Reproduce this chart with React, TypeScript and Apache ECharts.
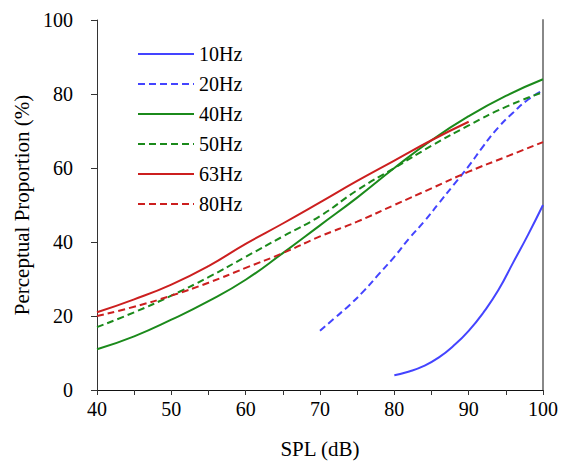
import React, { useEffect, useRef } from "react";
import * as echarts from "echarts";

const xTicks = [40, 50, 60, 70, 80, 90, 100];
const yTicks = [0, 20, 40, 60, 80, 100];

const spl10 = [80, 82, 84, 86, 88, 90, 92, 94, 96, 98, 100];
const val10 = [4, 5, 6.5, 8.8, 12, 16, 21, 27, 34.5, 42, 50];

const spl20 = [70, 72, 74, 76, 78, 80, 82, 84, 86, 88, 90, 92, 94, 96, 98, 100];
const val20 = [16, 19.5, 23, 27, 31.5, 36, 41, 45.5, 50.5, 55.5, 60.5, 66, 71, 75, 78.5, 81];

const spl40 = [40, 45, 50, 55, 60, 65, 70, 75, 80, 85, 90, 95, 100];
const val40 = [11, 14.5, 19, 24, 29.8, 37, 44.5, 52, 60, 67.5, 74, 79.5, 84];

const spl50 = [40, 45, 50, 55, 60, 65, 70, 75, 80, 85, 90, 95, 100];
const val50 = [17, 21, 25.5, 30.5, 36, 41.5, 47, 54, 60, 66, 71.5, 76.5, 80.5];

const spl63 = [40, 45, 50, 55, 60, 65, 70, 75, 80, 85, 90];
const val63 = [21, 24.5, 28.5, 33.5, 39.5, 45, 50.7, 56.5, 62, 67.5, 72.5];

const spl80 = [40, 45, 50, 55, 60, 65, 70, 75, 80, 85, 90, 95, 100];
const val80 = [20, 22.5, 25.5, 29, 33, 37, 41.5, 45.5, 50, 54.5, 59, 63, 67];

const BLUE = "#4444ff";
const GREEN = "#1b8a1b";
const RED = "#cc1f1f";
const FONT = "'Liberation Serif', 'Times New Roman', Times, serif";

const pairs = (xs: number[], ys: number[]) => xs.map((x, i) => [x, ys[i]]);

export default function App() {
  const ref = useRef<HTMLDivElement>(null);
  useEffect(() => {
    if (!ref.current) return;
    const chart = echarts.init(ref.current, null, { renderer: "svg" });
    const mk = (name: string, xs: number[], ys: number[], color: string, dashed: boolean) => ({
      name,
      type: "line",
      data: pairs(xs, ys),
      smooth: true,
      symbol: "none",
      showSymbol: false,
      lineStyle: { color, width: 2, type: dashed ? [7, 4] : "solid" },
      itemStyle: { color },
    });
    chart.setOption({
      animation: false,
      backgroundColor: "#ffffff",
      textStyle: { fontFamily: FONT },
      grid: { left: 97, right: 17, top: 20, bottom: 69, containLabel: false },
      legend: {
        orient: "vertical",
        left: 132,
        top: 39,
        padding: 5,
        itemWidth: 56,
        itemHeight: 14,
        itemGap: 10,
        itemStyle: { opacity: 0 },
        textStyle: { fontFamily: FONT, fontSize: 20, color: "#000" },
        data: ["10Hz", "20Hz", "40Hz", "50Hz", "63Hz", "80Hz"],
      },
      xAxis: [
        {
          type: "value",
          min: 40,
          max: 100,
          interval: 5,
          name: "SPL (dB)",
          nameLocation: "middle",
          nameGap: 48,
          nameTextStyle: { fontFamily: FONT, fontSize: 21, color: "#000" },
          axisLine: { lineStyle: { color: "#333", width: 1 } },
          axisTick: { show: true, length: 5, inside: false, lineStyle: { color: "#333" } },
          axisLabel: {
            fontFamily: FONT,
            fontSize: 20,
            color: "#000",
            margin: 9,
            formatter: (v: number) => (xTicks.includes(v) ? String(v) : ""),
          },
          splitLine: { show: false },
        },
        {
          type: "value",
          position: "top",
          min: 40,
          max: 100,
          interval: 5,
          axisLine: { show: true, lineStyle: { color: "#111", width: 1 } },
          axisTick: { show: false },
          axisLabel: { show: false },
          splitLine: { show: false },
        },
      ],
      yAxis: [
        {
          type: "value",
          min: 0,
          max: 100,
          interval: 20,
          name: "Perceptual Proportion (%)",
          nameLocation: "middle",
          nameGap: 64,
          nameTextStyle: { fontFamily: FONT, fontSize: 21, color: "#000" },
          axisLine: { show: true, lineStyle: { color: "#333", width: 1 } },
          axisTick: { show: true, length: 6, inside: false, lineStyle: { color: "#333" } },
          axisLabel: {
            fontFamily: FONT,
            fontSize: 20,
            color: "#000",
            margin: 24,
            formatter: (v: number) => (yTicks.includes(v) ? String(v) : ""),
          },
          splitLine: { show: false },
        },
        {
          type: "value",
          position: "right",
          min: 0,
          max: 100,
          interval: 20,
          axisLine: { show: true, lineStyle: { color: "#888", width: 2 } },
          axisTick: { show: false },
          axisLabel: { show: false },
          splitLine: { show: false },
        },
      ],
      series: [
        mk("10Hz", spl10, val10, BLUE, false),
        mk("20Hz", spl20, val20, BLUE, true),
        mk("40Hz", spl40, val40, GREEN, false),
        mk("50Hz", spl50, val50, GREEN, true),
        mk("63Hz", spl63, val63, RED, false),
        mk("80Hz", spl80, val80, RED, true),
      ],
    });
    return () => chart.dispose();
  }, []);
  return <div ref={ref} style={{ width: 561, height: 464, position: "absolute", left: 0, top: 0 }} />;
}
